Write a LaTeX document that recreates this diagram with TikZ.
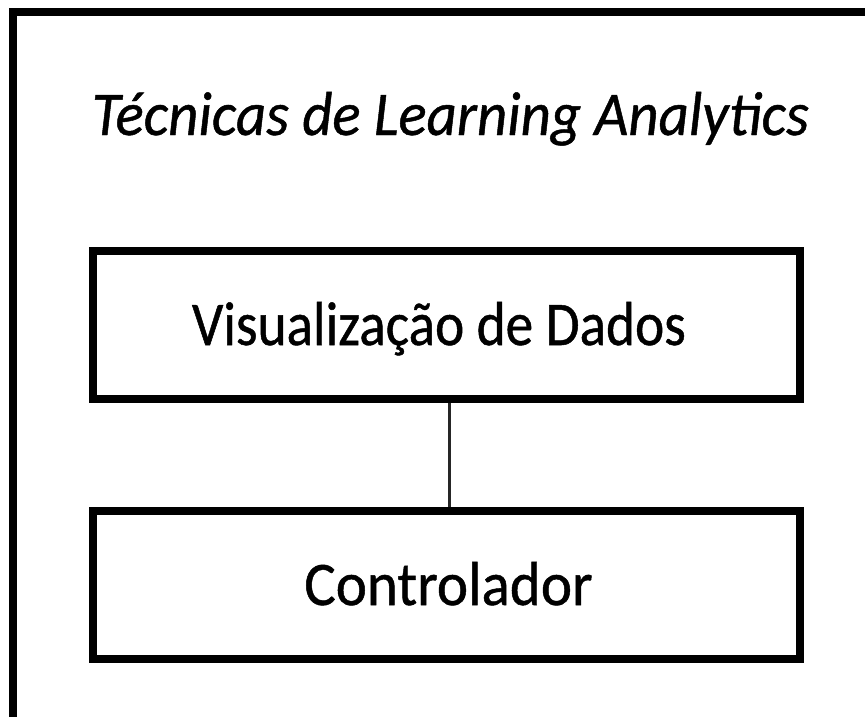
\documentclass[tikz,border=0pt]{standalone}
\usepackage{fontspec}
\setmainfont{Carlito}[FakeBold=0.8]
\newfontfamily\lblfont{Carlito}[FakeBold=0.8]
\begin{document}
\begin{tikzpicture}[x=1pt,y=-1pt,
  frame/.style={draw=black,line width=8pt},
  box/.style={draw=black,line width=8pt,minimum width=707pt,minimum height=148pt,inner sep=0pt,anchor=center},
  lbl/.style={font=\fontsize{62}{70}\selectfont,inner sep=0pt,anchor=base},
  link/.style={draw=black!85,line width=3pt}]
\useasboundingbox (0,0) rectangle (865,717);
\draw[frame] (13,12.5) rectangle (880,735);
\node[lbl,font=\fontsize{62}{70}\selectfont\itshape] (title) at (450.5,135) {\scalebox{0.948}[1]{Técnicas de Learning Analytics}};
\node[box] (vis) at (446.5,325) {};
\node[box] (ctl) at (446.5,585) {};
\node[lbl] (vist) at (439,345) {\scalebox{0.891}[1]{Visualização de Dados}};
\node[lbl] (ctlt) at (448.5,605) {\scalebox{0.953}[1]{Controlador}};
\draw[link] ([xshift=3pt]vis.south) -- ([xshift=3pt]ctl.north);
\end{tikzpicture}
\end{document}
